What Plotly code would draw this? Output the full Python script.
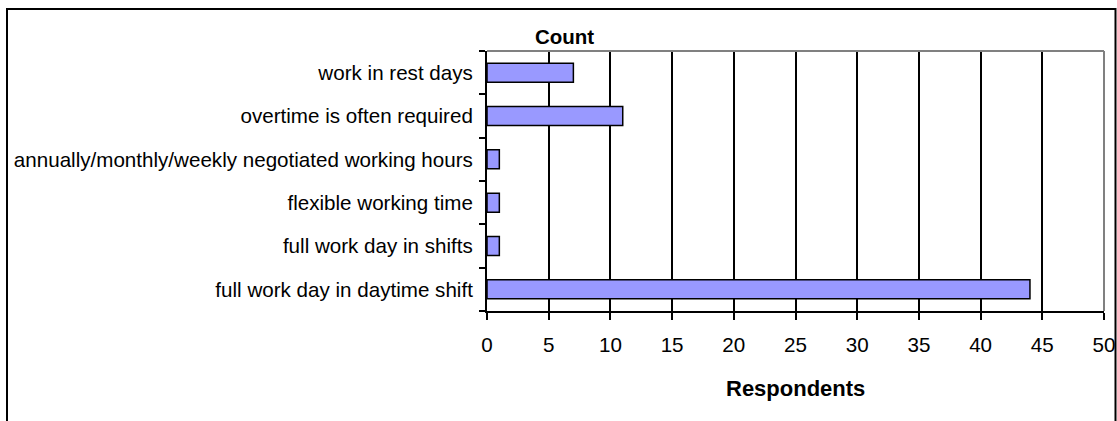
import plotly.graph_objects as go

# Working-time arrangements and how many respondents reported each
categories = [
    "full work day in daytime shift",
    "full work day in shifts",
    "flexible working time",
    "annually/monthly/weekly negotiated working hours",
    "overtime is often required",
    "work in rest days",
]
counts = [44, 1, 1, 1, 11, 7]
x_ticks = [0, 5, 10, 15, 20, 25, 30, 35, 40, 45, 50]

W, H = 1117, 421
L, R, T, B = 487, 13, 51, 110
pw, ph = W - L - R, H - T - B

def px_x(p):
    return (p - L) / pw

def px_y(p):
    return (H - B - p) / ph

FONT = "Liberation Sans, Arial, sans-serif"
FS = 20.6

fig = go.Figure(
    go.Bar(
        y=categories,
        x=counts,
        orientation="h",
        width=0.44,
        marker=dict(color="#9999FF", line=dict(color="black", width=1.5)),
        hoverinfo="x+y",
    )
)

fig.update_layout(
    width=W,
    height=H,
    margin=dict(l=L, r=R, t=T, b=B, pad=0, autoexpand=False),
    paper_bgcolor="white",
    plot_bgcolor="white",
    showlegend=False,
    font=dict(family=FONT, size=FS, color="black"),
)

fig.update_xaxes(
    range=[0, 50],
    tickvals=x_ticks,
    ticks="outside",
    ticklen=7,
    tickwidth=1.5,
    tickcolor="black",
    showgrid=True,
    gridcolor="black",
    gridwidth=1.5,
    showline=True,
    linecolor="black",
    linewidth=2,
    zeroline=False,
    automargin=False,
    tickfont=dict(family=FONT, size=FS, color="black"),
    ticklabelstandoff=7,
)

fig.update_yaxes(
    categoryorder="array",
    categoryarray=categories,
    tickson="boundaries",
    ticks="outside",
    ticklen=6,
    tickwidth=1.5,
    tickcolor="black",
    showline=True,
    linecolor="black",
    linewidth=2,
    showgrid=False,
    automargin=False,
    tickfont=dict(family=FONT, size=FS, color="black"),
    ticklabelstandoff=8,
)

shapes = [
    # grey frame on the top and right of the plotting area
    dict(type="line", xref="paper", yref="paper", x0=0, x1=1, y0=1, y1=1,
         line=dict(color="#808080", width=2)),
    dict(type="line", xref="paper", yref="paper", x0=1, x1=1, y0=0, y1=1,
         line=dict(color="#808080", width=2)),
    # outer chart border (open at the bottom)
    dict(type="rect", xref="paper", yref="paper",
         x0=px_x(7), x1=px_x(1115.5), y0=px_y(440), y1=px_y(9),
         line=dict(color="black", width=2), fillcolor="rgba(0,0,0,0)"),
]
fig.update_layout(shapes=shapes)

fig.add_annotation(
    text="<b>Count</b>", xref="paper", yref="paper",
    x=px_x(564), y=px_y(37), showarrow=False,
    font=dict(family=FONT, size=20.5, color="black"),
    xanchor="center", yanchor="middle",
)
fig.add_annotation(
    text="<b>Respondents</b>", xref="paper", yref="paper",
    x=0.5, y=px_y(388), showarrow=False,
    font=dict(family=FONT, size=22, color="black"),
    xanchor="center", yanchor="middle",
)

fig.write_html("out.html")
